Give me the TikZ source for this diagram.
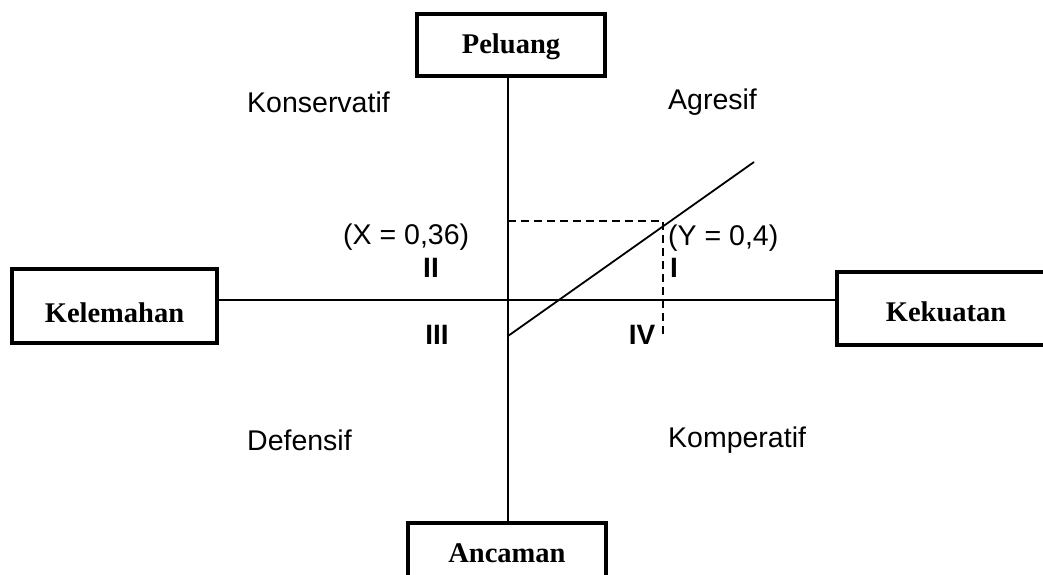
\documentclass[tikz,border=0pt]{standalone}
\usepackage{fontspec}
\setmainfont{Liberation Serif}
\newfontfamily\arialfont{Liberation Sans}
\begin{document}
\begin{tikzpicture}[x=1pt,y=-1pt,
  box/.style={draw,line width=3.3pt,rectangle,inner sep=0pt},
  boxtext/.style={font=\fontsize{28.5}{30}\selectfont\bfseries,inner sep=0pt,anchor=center},
  quad/.style={font=\arialfont\fontsize{28.5}{30}\selectfont,inner sep=0pt,anchor=west},
  roman/.style={font=\arialfont\fontsize{28}{30}\selectfont\bfseries,inner sep=0pt,anchor=center},
  axis/.style={line width=1.8pt},
  guide/.style={line width=1.6pt,dash pattern=on 8pt off 5pt}]
\useasboundingbox (0,0) rectangle (1043,574);
\clip (0,0) rectangle (1043,574);

% boxes at the four ends of the axes
\node[box,minimum width=188,minimum height=62] (pel) at (511,45) {};
\node[box,minimum width=205,minimum height=74] (kel) at (114.5,306) {};
\node[box,minimum width=218,minimum height=73] (kek) at (946,308.5) {};
\node[box,minimum width=198,minimum height=67] (anc) at (507,556.5) {};

\node[boxtext] (pelt) at (511,47) {Peluang};
\node[boxtext] (kelt) at (114.5,313) {Kelemahan};
\node[boxtext] (kekt) at (946,312) {Kekuatan};
\node[boxtext] (anct) at (507,553) {Ancaman};

% axes
\coordinate (O) at (508,300);
\draw[axis] (O |- pel.south) -- (O |- anc.north);
\draw[axis] (kel.east |- O) -- (kek.west |- O);

% strategy line and its reading point
\coordinate (A) at (508,336);
\coordinate (B) at (754,162);
\coordinate (Px) at (508,221);
\coordinate (P) at (663,221);
\coordinate (Py) at (663,338);
\draw[axis] (A) -- (B);
\draw[guide] (Px) -- (P) -- (Py);

% quadrant names
\node[quad] (kons) at (247,102) {Konservatif};
\node[quad] (agr) at (668,102) {Agresif};
\node[quad] (def) at (247,440) {Defensif};
\node[quad] (kom) at (668,440) {Komperatif};

% values
\node[quad] (xv) at (343,237) {(X = 0,36)};
\node[quad] (yv) at (668,238) {(Y = 0,4)};

% quadrant numbers
\node[roman] (q2) at (431,268) {II};
\node[roman] (q3) at (437,335) {III};
\node[roman] (q1) at (674,268) {I};
\node[roman] (q4) at (642,335) {IV};
\end{tikzpicture}
\end{document}
